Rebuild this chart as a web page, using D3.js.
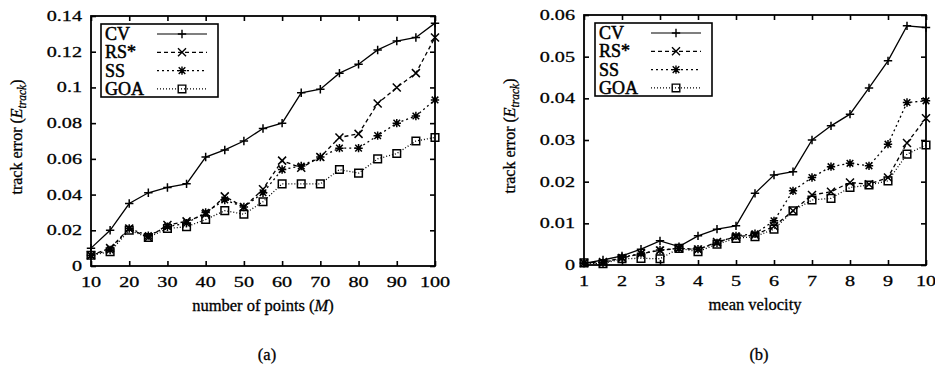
<!DOCTYPE html>
<html>
<head>
<meta charset="utf-8">
<script src="https://cdn.jsdelivr.net/npm/d3@7"></script>
<style>
  html, body { margin: 0; padding: 0; background: #fff; }
  svg { display: block; }
  text { font-family: "Liberation Serif", "Times New Roman", serif; fill: #000; stroke: #000; stroke-width: 0.3px; }
</style>
</head>
<body>
<svg id="chart" width="935" height="369"></svg>
<script>
// ---------- data (panel a) ----------
const pointsM = [10,15,20,25,30,35,40,45,50,55,60,65,70,75,80,85,90,95,100];
const cvA  = [0.010,0.020,0.035,0.041,0.044,0.046,0.061,0.065,0.070,0.077,0.080,0.097,0.099,0.108,0.113,0.121,0.126,0.128,0.136];
const rsA  = [0.006,0.010,0.021,0.016,0.023,0.025,0.029,0.039,0.033,0.043,0.059,0.055,0.061,0.072,0.074,0.091,0.100,0.108,0.128];
const ssA  = [0.006,0.009,0.021,0.017,0.022,0.024,0.030,0.037,0.033,0.041,0.054,0.056,0.061,0.066,0.066,0.073,0.080,0.084,0.093];
const goaA = [0.006,0.008,0.020,0.016,0.021,0.022,0.026,0.031,0.029,0.036,0.046,0.046,0.046,0.054,0.052,0.060,0.063,0.070,0.072];
const xTicksA = [10,20,30,40,50,60,70,80,90,100];
const yTicksA = [0,0.02,0.04,0.06,0.08,0.1,0.12,0.14];
const yLabelsA = ["0","0.02","0.04","0.06","0.08","0.1","0.12","0.14"];

// ---------- data (panel b) ----------
const meanVel = [1,1.5,2,2.5,3,3.5,4,4.5,5,5.5,6,6.5,7,7.5,8,8.5,9,9.5,10];
const cvB  = [0.0004,0.0012,0.0022,0.0038,0.0058,0.0044,0.0070,0.0086,0.0094,0.0172,0.0216,0.0224,0.0300,0.0334,0.0362,0.0425,0.0490,0.0574,0.0570];
const rsB  = [0.0005,0.0007,0.0017,0.0027,0.0035,0.0040,0.0037,0.0055,0.0068,0.0072,0.0093,0.0130,0.0168,0.0176,0.0198,0.0194,0.0210,0.0293,0.0352];
const ssB  = [0.0005,0.0005,0.0018,0.0028,0.0036,0.0040,0.0038,0.0053,0.0070,0.0075,0.0106,0.0178,0.0210,0.0236,0.0244,0.0238,0.0290,0.0390,0.0394];
const goaB = [0.0005,0.0003,0.0015,0.0016,0.0015,0.0040,0.0032,0.0050,0.0064,0.0068,0.0086,0.0130,0.0156,0.0160,0.0186,0.0192,0.0202,0.0266,0.0288];
const xTicksB = [1,2,3,4,5,6,7,8,9,10];
const yTicksB = [0,0.01,0.02,0.03,0.04,0.05,0.06];
const yLabelsB = ["0","0.01","0.02","0.03","0.04","0.05","0.06"];

const seriesNames = ["CV","RS*","SS","GOA"];

// ---------- styles ----------
const styles = {
  "CV":  {dash: null,    marker: "plus"},
  "RS*": {dash: "4,3",   marker: "cross"},
  "SS":  {dash: "2,3",   marker: "star"},
  "GOA": {dash: "1,2",   marker: "square"}
};

const svg = d3.select("#chart");

function markerPath(type) {
  const p = d3.path();
  const s = 4.2;
  if (type === "plus" || type === "star") {
    p.moveTo(-s,0); p.lineTo(s,0); p.moveTo(0,-s); p.lineTo(0,s);
  }
  if (type === "cross" || type === "star") {
    const c = type === "star" ? 3.3 : 4;
    p.moveTo(-c,-c); p.lineTo(c,c); p.moveTo(-c,c); p.lineTo(c,-c);
  }
  if (type === "square") {
    p.rect(-3.8,-3.8,7.6,7.6);
  }
  return p.toString();
}

function drawPanel(cfg) {
  const g = svg.append("g");
  const x = d3.scaleLinear().domain(cfg.xDomain).range([cfg.left, cfg.right]);
  const y = d3.scaleLinear().domain(cfg.yDomain).range([cfg.bottom, cfg.top]);

  // inward ticks on all four sides
  const tk = 5;
  const axB = g.append("g").attr("transform", `translate(0,${cfg.bottom})`)
    .call(d3.axisBottom(x).tickValues(cfg.xTicks).tickSize(-tk).tickFormat(""));
  const axT = g.append("g").attr("transform", `translate(0,${cfg.top})`)
    .call(d3.axisTop(x).tickValues(cfg.xTicks).tickSize(-tk).tickFormat(""));
  const axL = g.append("g").attr("transform", `translate(${cfg.left},0)`)
    .call(d3.axisLeft(y).tickValues(cfg.yTicks).tickSize(-tk).tickFormat(""));
  const axR = g.append("g").attr("transform", `translate(${cfg.right},0)`)
    .call(d3.axisRight(y).tickValues(cfg.yTicks).tickSize(-tk).tickFormat(""));
  [axB, axT, axL, axR].forEach(a => {
    a.select(".domain").remove();
    a.selectAll("line").attr("stroke", "#000").attr("stroke-width", 1.6);
  });

  // frame
  g.append("rect")
    .attr("x", cfg.left).attr("y", cfg.top)
    .attr("width", cfg.right - cfg.left).attr("height", cfg.bottom - cfg.top)
    .attr("fill", "none").attr("stroke", "#000").attr("stroke-width", 1.8);

  // tick labels
  g.selectAll(".xl").data(cfg.xTicks).enter().append("text")
    .attr("transform", d => `translate(${x(d)},${cfg.bottom + 21}) scale(1.3,1)`)
    .attr("text-anchor", "middle").attr("font-size", 15.5)
    .text(d => String(d));
  g.selectAll(".yl").data(cfg.yTicks).enter().append("text")
    .attr("transform", d => `translate(${cfg.left - 9},${y(d) + 5}) scale(1.3,1)`)
    .attr("text-anchor", "end").attr("font-size", 15.5)
    .text((d, i) => cfg.yLabels[i]);

  // axis titles
  const xt = g.append("text")
    .attr("x", (cfg.left + cfg.right) / 2).attr("y", cfg.bottom + 45)
    .attr("text-anchor", "middle").attr("font-size", 16.5);
  cfg.xTitle.forEach(part => {
    const ts = xt.append("tspan").text(part.t);
    if (part.i) ts.attr("font-style", "italic");
  });

  const yt = g.append("text")
    .attr("transform", `translate(${cfg.yTitleX},${(cfg.top + cfg.bottom) / 2 - 4}) rotate(-90)`)
    .attr("text-anchor", "middle").attr("font-size", 16);
  yt.append("tspan").text("track error (");
  yt.append("tspan").attr("font-style", "italic").text("E");
  yt.append("tspan").attr("font-style", "italic").attr("font-size", 11.5).attr("dy", 4).text("track");
  yt.append("tspan").attr("dy", -4).text(")");

  // panel caption
  g.append("text")
    .attr("x", (cfg.left + cfg.right) / 2 + 4).attr("y", 360)
    .attr("text-anchor", "middle").attr("font-size", 16.5)
    .text(cfg.caption);

  // series
  const line = d3.line().x(d => x(d[0])).y(d => y(d[1]));
  seriesNames.forEach((name, si) => {
    const vals = cfg.series[si];
    const pts = cfg.xs.map((xv, i) => [xv, vals[i]]);
    const st = styles[name];
    g.append("path")
      .attr("d", line(pts))
      .attr("fill", "none").attr("stroke", "#000").attr("stroke-width", 1.3)
      .attr("stroke-dasharray", st.dash);
    g.selectAll(null).data(pts).enter().append("path")
      .attr("transform", d => `translate(${x(d[0])},${y(d[1])})`)
      .attr("d", markerPath(st.marker))
      .attr("fill", "none").attr("stroke", "#000").attr("stroke-width", 1.5);
  });

  // legend
  const lg = g.append("g");
  lg.append("rect")
    .attr("x", cfg.legX).attr("y", cfg.top + 8)
    .attr("width", 117).attr("height", 73)
    .attr("fill", "#fff").attr("stroke", "#000").attr("stroke-width", 1.6);
  seriesNames.forEach((name, i) => {
    const cy = cfg.top + 18 + i * 18.3;
    const st = styles[name];
    lg.append("text")
      .attr("x", cfg.legX + 4).attr("y", cy + 6)
      .attr("font-size", 18).style("stroke-width", "0.5px").text(name);
    lg.append("line")
      .attr("x1", cfg.legX + 56).attr("x2", cfg.legX + 106)
      .attr("y1", cy).attr("y2", cy)
      .attr("stroke", "#000").attr("stroke-width", 1.2)
      .attr("stroke-dasharray", st.dash);
    lg.append("path")
      .attr("transform", `translate(${cfg.legX + 81},${cy})`)
      .attr("d", markerPath(st.marker))
      .attr("fill", "none").attr("stroke", "#000").attr("stroke-width", 1.4);
  });
}

drawPanel({
  left: 91, right: 435, top: 16, bottom: 266,
  xDomain: [10, 100], yDomain: [0, 0.14],
  xTicks: xTicksA, yTicks: yTicksA, yLabels: yLabelsA,
  xs: pointsM, series: [cvA, rsA, ssA, goaA],
  xTitle: [{t: "number of points ("}, {t: "M", i: true}, {t: ")"}],
  yTitleX: 22, caption: "(a)", legX: 101
});

drawPanel({
  left: 584, right: 926, top: 15, bottom: 265,
  xDomain: [1, 10], yDomain: [0, 0.06],
  xTicks: xTicksB, yTicks: yTicksB, yLabels: yLabelsB,
  xs: meanVel, series: [cvB, rsB, ssB, goaB],
  xTitle: [{t: "mean velocity"}],
  yTitleX: 515, caption: "(b)", legX: 595
});
</script>
</body>
</html>
